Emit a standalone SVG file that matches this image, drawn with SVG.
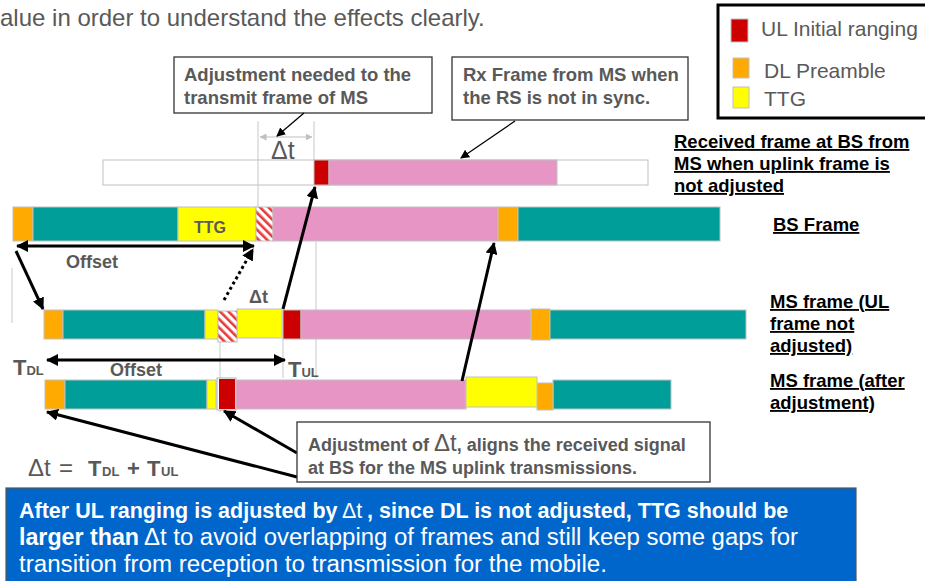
<svg xmlns="http://www.w3.org/2000/svg" width="925" height="581" viewBox="0 0 925 581">
<defs>
<style>
text{font-family:"Liberation Sans",Arial,sans-serif}
.g{fill:#595959}
.lab{font-size:18.5px;font-weight:bold;fill:#000;text-decoration:underline}
.call{font-size:18.5px;font-weight:bold;fill:#595959}
.seg{stroke:#c0c0c0;stroke-width:1}
.or{fill:#FFAA00}
.te{fill:#009E98}
.ye{fill:#FFFF00}
.pk{fill:#E795C5}
.rd{fill:#CC0000}
.ht{fill:url(#hatch)}
.guide{stroke:#c8c8c8;stroke-width:1;fill:none}
.thick{stroke:#000;stroke-width:3;fill:none}
.thin{stroke:#000;stroke-width:1.3;fill:none}
.box{fill:#fff;stroke:#333;stroke-width:1.3}
.note{fill:#fff}
</style>
<pattern id="hatch" patternUnits="userSpaceOnUse" width="6" height="6" patternTransform="rotate(-45)">
<rect width="6" height="6" fill="#fff"/><rect width="2.6" height="6" fill="#E83A3A"/>
</pattern>
<marker id="ah" markerUnits="userSpaceOnUse" markerWidth="12" markerHeight="12" refX="11" refY="6" orient="auto-start-reverse" viewBox="0 0 12 12"><path d="M0,0 L12,6 L0,12 z" fill="#000"/></marker>
<marker id="ahs" markerUnits="userSpaceOnUse" markerWidth="9" markerHeight="9" refX="8" refY="4.5" orient="auto-start-reverse" viewBox="0 0 9 9"><path d="M0,0 L9,4.5 L0,9 z" fill="#000"/></marker>
<marker id="ahg" markerUnits="userSpaceOnUse" markerWidth="7" markerHeight="7" refX="6.5" refY="3.5" orient="auto-start-reverse" viewBox="0 0 7 7"><path d="M0,0 L7,3.5 L0,7 z" fill="#c0c0c0"/></marker>
</defs>

<rect width="925" height="581" fill="#fff"/>

<g id="intro-text">
<text x="0" y="26" font-size="24" class="g">alue in order to understand the effects clearly.</text>
</g>

<g id="legend">
<rect x="718" y="5" width="212" height="113" fill="#fff" stroke="#000" stroke-width="3"/>
<rect x="731" y="19" width="17" height="23" class="rd seg"/>
<text x="761" y="36" font-size="21" class="g">UL Initial ranging</text>
<rect x="733" y="58" width="16" height="20" class="or seg"/>
<text x="764" y="78" font-size="21" class="g">DL Preamble</text>
<rect x="733" y="87" width="16" height="21" class="ye seg"/>
<text x="764" y="106" font-size="21" class="g">TTG</text>
</g>

<g id="guides">
<line class="guide" x1="258" y1="121" x2="258" y2="207"/>
<line class="guide" x1="314" y1="121" x2="314" y2="160"/>
<line class="guide" x1="316" y1="242" x2="316" y2="378"/>
<line class="guide" x1="283" y1="339" x2="283" y2="378"/>
<line class="guide" x1="220" y1="341" x2="220" y2="412"/>
<line class="guide" x1="12" y1="268" x2="12" y2="323"/>
<line stroke="#c0c0c0" stroke-width="1.2" x1="260" y1="137" x2="312" y2="137" marker-start="url(#ahg)" marker-end="url(#ahg)"/>
<text x="271" y="159" font-size="25" class="g">Δt</text>
</g>

<g id="callout-adjustment">
<rect x="174" y="57" width="258" height="56" class="box"/>
<text class="call" x="184" y="81">Adjustment needed to the</text>
<text class="call" x="184" y="104">transmit frame of MS</text>
</g>

<g id="callout-rx">
<rect x="452" y="57" width="236" height="63" class="box"/>
<text class="call" x="463" y="81">Rx Frame from MS when</text>
<text class="call" x="463" y="104">the RS is not in sync.</text>
</g>

<g id="rx-frame">
<rect x="103" y="160" width="545" height="25" fill="#fff" stroke="#c0c0c0"/>
<line class="guide" x1="258" y1="160" x2="258" y2="185"/>
<rect x="314" y="160" width="15" height="25" class="rd seg"/>
<rect x="329" y="160" width="228" height="25" class="pk seg"/>
</g>

<g id="bs-frame">
<rect x="13" y="207" width="20" height="34" class="or seg"/>
<rect x="33" y="207" width="145" height="34" class="te seg"/>
<rect x="178" y="207" width="78" height="34" class="ye seg"/>
<text x="210" y="233" font-size="16" font-weight="bold" class="g" text-anchor="middle">TTG</text>
<rect x="256" y="207" width="17" height="34" class="ht seg"/>
<rect x="273" y="207" width="225" height="34" class="pk seg"/>
<rect x="498" y="207" width="20" height="34" class="or seg"/>
<rect x="518" y="207" width="202" height="34" class="te seg"/>
</g>

<g id="ms-frame">
<rect x="44" y="310" width="19" height="29" class="or seg"/>
<rect x="63" y="310" width="142" height="29" class="te seg"/>
<rect x="205" y="310" width="13" height="29" class="ye seg"/>
<rect x="237" y="309" width="45" height="29" class="ye seg"/>
<rect x="218" y="311" width="19" height="31" class="ht seg"/>
<rect x="283" y="310" width="18" height="29" class="rd seg"/>
<rect x="301" y="310" width="230" height="29" class="pk seg"/>
<rect x="531" y="309" width="19" height="31" class="or seg"/>
<rect x="550" y="310" width="196" height="29" class="te seg"/>
<text x="249" y="303" font-size="18" font-weight="bold" class="g">Δt</text>
</g>

<g id="ms-frame-adjusted">
<rect x="45" y="380" width="20" height="29" class="or seg"/>
<rect x="65" y="380" width="142" height="29" class="te seg"/>
<rect x="207" y="380" width="9" height="29" class="ye seg"/>
<rect x="217" y="378" width="19" height="32" fill="#fff" stroke="#b0b0b0"/>
<rect x="219" y="379" width="16" height="30" class="rd"/>
<rect x="236" y="380" width="230" height="29" class="pk seg"/>
<rect x="553" y="380" width="118" height="29" class="te seg"/>
<rect x="537" y="383" width="16" height="27" class="or seg"/>
<rect x="466" y="377" width="71" height="30" class="ye seg"/>
</g>

<g id="row-labels">
<text class="lab" x="674" y="148">Received frame at BS from</text>
<text class="lab" x="674" y="170">MS when uplink frame is</text>
<text class="lab" x="674" y="192">not adjusted</text>
<text class="lab" x="773" y="231">BS Frame</text>
<text class="lab" x="770" y="308">MS frame (UL</text>
<text class="lab" x="770" y="330">frame not</text>
<text class="lab" x="770" y="352">adjusted)</text>
<text class="lab" x="770" y="387">MS frame (after</text>
<text class="lab" x="770" y="409">adjustment)</text>
</g>

<g id="offset-labels">
<text x="66" y="268" font-size="18" font-weight="bold" class="g">Offset</text>
<text x="110" y="376" font-size="18" font-weight="bold" class="g">Offset</text>
<text x="13" y="375" font-weight="bold" class="g"><tspan font-size="22">T</tspan><tspan font-size="13">DL</tspan></text>
<text x="288" y="377" font-weight="bold" class="g"><tspan font-size="22">T</tspan><tspan font-size="13">UL</tspan></text>
</g>

<g id="connectors">
<line class="thin" x1="304" y1="113" x2="277" y2="136" marker-end="url(#ahs)"/>
<line class="thin" x1="515" y1="121" x2="461" y2="158" marker-end="url(#ahs)"/>
<line class="thick" x1="17" y1="246" x2="254" y2="246" marker-start="url(#ah)" marker-end="url(#ah)"/>
<line class="thick" x1="16" y1="251" x2="43" y2="309" marker-end="url(#ah)"/>
<line class="thick" x1="283" y1="309" x2="315" y2="187" marker-end="url(#ah)"/>
<line class="thick" x1="462" y1="381" x2="494" y2="243" marker-end="url(#ah)"/>
<line class="thick" stroke-dasharray="3,3" x1="224" y1="300" x2="253" y2="249" marker-end="url(#ah)"/>
<line class="thick" x1="47" y1="360" x2="285" y2="360" marker-start="url(#ah)" marker-end="url(#ah)"/>
<line class="thick" x1="297" y1="453" x2="224" y2="411" marker-end="url(#ah)"/>
<line class="thick" x1="297" y1="477" x2="47" y2="412" marker-end="url(#ah)"/>
</g>

<g id="callout-alignment">
<rect x="297" y="422" width="413" height="60" class="box"/>
<text x="308" y="451" font-size="18" font-weight="bold" class="g">Adjustment of <tspan font-size="24" font-weight="normal">Δt</tspan>, aligns the received signal</text>
<text x="308" y="474" font-size="18" font-weight="bold" class="g">at BS for the MS uplink transmissions.</text>
</g>

<g id="formula">
<text y="476" class="g">
<tspan x="28" font-size="24">Δt</tspan><tspan x="59" font-size="24">=</tspan>
<tspan x="88" font-size="22" font-weight="bold">T</tspan><tspan x="102" font-size="13" font-weight="bold">DL</tspan>
<tspan x="127" font-size="22" font-weight="bold">+</tspan>
<tspan x="147" font-size="22" font-weight="bold">T</tspan><tspan x="161" font-size="13" font-weight="bold">UL</tspan>
</text>
</g>

<g id="note-box">
<rect x="6" y="488" width="850" height="100" fill="#0066CC" stroke="#555" stroke-width="1.2"/>
<text class="note" x="19" y="518" font-size="21.5" font-weight="bold">After UL ranging is adjusted by</text>
<text class="note" x="342" y="518" font-size="21.5">Δt</text>
<text class="note" x="367" y="518" font-size="21.5" font-weight="bold">, since DL is not adjusted, TTG should be</text>
<text class="note" x="19" y="545" font-size="23" font-weight="bold" textLength="120" lengthAdjust="spacingAndGlyphs">larger than</text>
<text class="note" x="144" y="545" font-size="23" textLength="654" lengthAdjust="spacingAndGlyphs">Δt to avoid overlapping of frames and still keep some gaps for</text>
<text class="note" x="19" y="572" font-size="23" textLength="588" lengthAdjust="spacingAndGlyphs">transition from reception to transmission for the mobile.</text>
</g>
</svg>
